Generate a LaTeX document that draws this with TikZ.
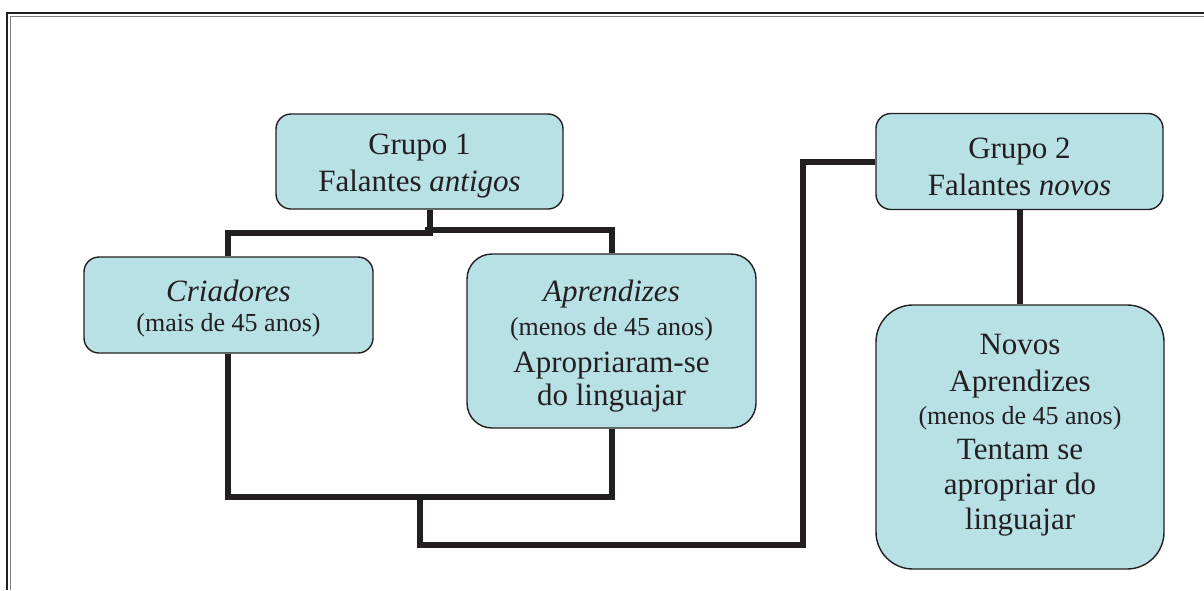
\documentclass[tikz,border=0pt]{standalone}
\usepackage{fontspec}
\setmainfont{Liberation Serif}
\definecolor{boxfill}{RGB}{184,225,230}
\definecolor{ink}{RGB}{35,31,32}
\definecolor{framegray}{RGB}{128,128,128}
\tikzset{
  grp/.style={draw=ink, line width=1.4pt, fill=boxfill, inner sep=0pt},
  txt/.style={text=ink, align=center, inner sep=0pt, font=\fontsize{31}{36}\selectfont},
  conn/.style={draw=ink, line width=6pt}
}
\newcommand{\sm}[1]{{\fontsize{26}{31}\selectfont #1}}
\begin{document}
\begin{tikzpicture}[x=1pt,y=-1pt]
\useasboundingbox (0,0) rectangle (1204,590);
% frame
\draw[ink, line width=2.5pt] (7.2,590) -- (7.2,13) -- (1204,13);
\draw[framegray, line width=1.5pt] (10.6,590) -- (10.6,16.3) -- (1204,16.3);
% boxes
\node[grp, rounded corners=15pt, minimum width=287pt, minimum height=95pt] (g1) at (419.5,161.5) {};
\node[grp, rounded corners=15pt, minimum width=287pt, minimum height=96pt] (g2) at (1019.5,161.5) {};
\node[grp, rounded corners=15pt, minimum width=289pt, minimum height=96pt] (cri) at (228.5,305) {};
\node[grp, rounded corners=25pt, minimum width=289pt, minimum height=174pt] (apr) at (611.5,341) {};
\node[grp, rounded corners=37pt, minimum width=288pt, minimum height=264pt] (nov) at (1020,437) {};
% texts
\node[txt] (g1t) at ([yshift=-5pt]g1.center) {Grupo 1\\[1pt]Falantes \textit{antigos}};
\node[txt] (g2t) at ([yshift=-5pt]g2.center) {Grupo 2\\[1pt]Falantes \textit{novos}};
\node[txt] (crit) at ([yshift=-4pt]cri.center) {\textit{Criadores}\\[-6pt]\sm{(mais de 45 anos)}};
\node[txt] (aprt) at ([yshift=-5pt]apr.center) {\textit{Aprendizes}\\[-2pt]\sm{(menos de 45 anos)}\\[1pt]Apropriaram-se\\[-3pt]do linguajar};
\node[txt] (novt) at ([yshift=1.5pt]nov.center) {Novos\\[1pt]Aprendizes\\[-3pt]\sm{(menos de 45 anos)}\\[-1pt]Tentam se\\[-1pt]apropriar do\\[-1pt]linguajar};
% named junction points
\coordinate (j1) at (430,233);
\coordinate (jl) at (228,233);
\coordinate (j2) at (425,230);
\coordinate (jr) at (612,230);
\coordinate (b1) at (228,497);
\coordinate (b2) at (612,497);
\coordinate (m1) at (420,497);
\coordinate (m2) at (420,545);
\coordinate (m3) at (803,545);
\coordinate (m4) at (803,162);
% connectors
\draw[conn] (g1.south -| j1) -- (j1);
\draw[conn] ([xshift=3pt]j1) -- (jl) -- (cri.north -| jl);
\draw[conn] (j2) -- (jr) -- (apr.north -| jr);
\draw[conn] (cri.south -| b1) -- (b1) -- (b2) -- (apr.south -| b2);
\draw[conn] (m1) -- (m2) -- (m3) -- (m4) -- (g2.west |- m4);
\draw[conn] (g2.south -| nov.north) -- (nov.north);
\end{tikzpicture}
\end{document}
